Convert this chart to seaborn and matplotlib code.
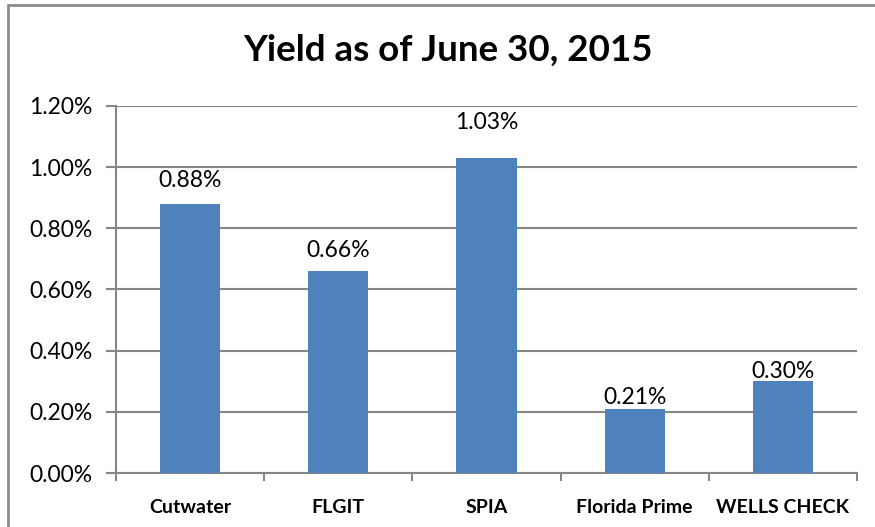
import matplotlib
matplotlib.use("Agg")
import matplotlib.pyplot as plt
import seaborn as sns
import pandas as pd
from matplotlib.lines import Line2D
from matplotlib.ticker import MultipleLocator, FuncFormatter

categories = ["Cutwater", "FLGIT", "SPIA", "Florida Prime", "WELLS CHECK"]
yields = [0.88, 0.66, 1.03, 0.21, 0.30]
value_labels = ["0.88%", "0.66%", "1.03%", "0.21%", "0.30%"]
title = "Yield as of June 30, 2015"

# label vertical offsets above bar tops (pixels), as in the reference
label_offsets_px = [23, 20.5, 35, 11.5, 9.5]

sns.set_theme(style="white")
plt.rcParams["font.family"] = ["Lato", "DejaVu Sans"]

df = pd.DataFrame({"cat": categories, "val": yields})

fig = plt.figure(figsize=(8.75, 5.27), dpi=100)
ax = fig.add_axes([116 / 875, 1 - 473 / 527, (857 - 116) / 875, (473 - 106) / 527])

sns.barplot(data=df, x="cat", y="val", color="#4F81BD", saturation=1,
            width=0.405, ax=ax, zorder=3, edgecolor="none", linewidth=0)

ax.set_ylim(0, 1.2)
ax.set_xlim(-0.5, len(categories) - 0.5)
ax.yaxis.set_major_locator(MultipleLocator(0.2))
ax.yaxis.set_major_formatter(FuncFormatter(lambda v, p: f"{v:.2f}%"))
ax.grid(axis="y", color="#868686", linewidth=1.5, zorder=0)
ax.set_axisbelow(True)

for s in ["top", "right"]:
    ax.spines[s].set_visible(False)
for s in ["left", "bottom"]:
    ax.spines[s].set_color("#868686")
    ax.spines[s].set_linewidth(1.5)

ax.set_xlabel("")
ax.set_ylabel("")
ax.tick_params(axis="y", labelsize=16.5, colors="#868686", labelcolor="black",
               direction="out", length=7, width=1.5, left=True, pad=10)
ax.tick_params(axis="x", length=0, pad=19)
for lbl in ax.get_xticklabels():
    lbl.set_fontweight("bold")
    lbl.set_fontsize(14)
    lbl.set_color("black")

# category boundary ticks
ax.set_xticks([i - 0.5 for i in range(len(categories) + 1)], minor=True)
ax.tick_params(axis="x", which="minor", direction="out", length=6, width=1.5,
               colors="#868686", bottom=True)

for i, (v, t, off) in enumerate(zip(yields, value_labels, label_offsets_px)):
    ax.annotate(t, xy=(i, v), xytext=(0, off * 0.72), textcoords="offset points",
                ha="center", va="center", fontsize=16.5, color="black")

fig.text(448 / 875, 1 - 50 / 527, title, ha="center", va="center",
         fontsize=26.5, fontweight="bold", color="black")

# outer chart border (only top and left edges visible)
fig.add_artist(Line2D([8 / 875, 1.0], [1 - 5 / 527, 1 - 5 / 527],
                      transform=fig.transFigure, color="#8c8c8c", linewidth=2))
fig.add_artist(Line2D([8 / 875, 8 / 875], [0.0, 1 - 5 / 527],
                      transform=fig.transFigure, color="#8c8c8c", linewidth=2))

fig.savefig("out.png", dpi=100)
